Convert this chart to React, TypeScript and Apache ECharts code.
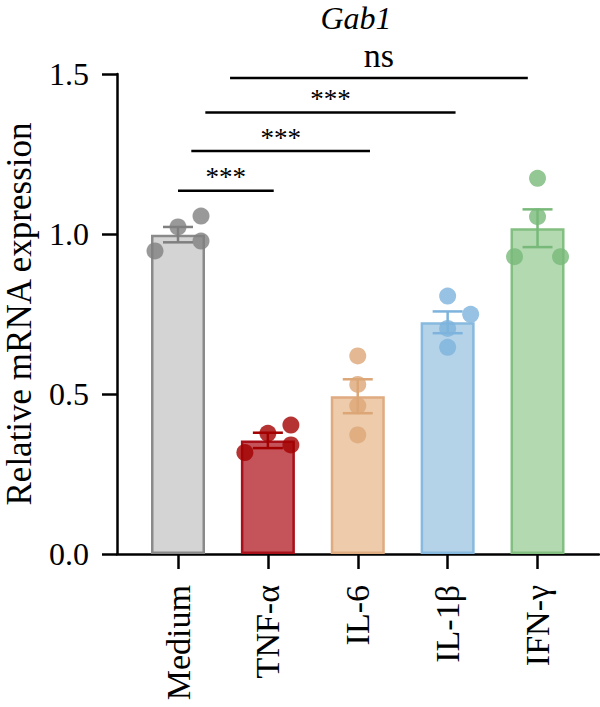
import React, { useEffect, useRef } from 'react';
import * as echarts from 'echarts';

// ---- data ----
const categories = ['Medium', 'TNF-α', 'IL-6', 'IL-1β', 'IFN-γ'];
const means = [0.998, 0.355, 0.493, 0.724, 1.018];
const sems = [0.024, 0.024, 0.053, 0.034, 0.059];
const pointValues = [
  [0.947, 1.022, 1.056, 0.978],
  [0.317, 0.377, 0.403, 0.341],
  [0.619, 0.53, 0.463, 0.372],
  [0.806, 0.749, 0.705, 0.646],
  [1.174, 1.054, 0.929, 0.929],
];
const pointJitter = [
  [-0.256, 0, 0.256, 0.256],
  [-0.256, 0, 0.256, 0.256],
  [0, 0, 0, 0],
  [0, 0.256, 0, 0],
  [0, 0, -0.256, 0.256],
];
const bracketStart = [0, 0.148, 0.304, 0.579];
const bracketEnd = [1.065, 2.136, 3.088, 3.892];
const bracketLevel = [1.135, 1.259, 1.38, 1.4875];
const bracketLabel = ['***', '***', '***', 'ns'];
const yMin = 0;
const yMax = 1.5;
const yStep = 0.5;
const title = 'Gab1';
const yName = 'Relative mRNA expression';

// ---- styles ----
const barFill = ['#d4d4d4', '#c4535a', '#edcbab', '#b4d3e8', '#b3d9b1'];
const barBorder = ['#8a8a8a', '#a8101a', '#dfab80', '#88b9de', '#82bf80'];
const pointColor = ['#7f7f7f', '#a30000', '#dca677', '#7db3dc', '#78b979'];
const FONT = 'Liberation Serif';

export default function App() {
  const ref = useRef<HTMLDivElement>(null);
  useEffect(() => {
    if (!ref.current) return;
    const chart = echarts.init(ref.current, undefined, { renderer: 'svg' });
    const catIdx = categories.map((_, i) => i);

    const barData = means.map((m, i) => ({
      value: [i, m],
      itemStyle: { color: barFill[i], borderColor: barBorder[i], borderWidth: 2.5 },
    }));
    const errData = means.map((m, i) => [i, m, sems[i]]);
    const pointData: any[] = [];
    pointValues.forEach((vals, i) =>
      vals.forEach((v, j) =>
        pointData.push({ value: [i + pointJitter[i][j], v], itemStyle: { color: pointColor[i] } })
      )
    );
    const bracketData = bracketStart.map((s, i) => [s, bracketEnd[i], bracketLevel[i], i]);

    chart.setOption({
      animation: false,
      textStyle: { fontFamily: FONT },
      grid: {
        left: 117,
        right: 1,
        top: 74,
        bottom: 153,
        containLabel: false,
        outerBoundsMode: 'none',
      },
      graphic: [
        {
          type: 'text',
          x: 356,
          y: 18,
          style: {
            text: title,
            align: 'center',
            verticalAlign: 'middle',
            fontFamily: FONT,
            fontStyle: 'italic',
            fontSize: 32,
            fill: '#000',
          },
        },
      ],
      xAxis: {
        type: 'value',
        min: -0.6787,
        max: 4.684,
        splitLine: { show: false },
        axisLine: { show: true, onZero: false, lineStyle: { color: '#000', width: 2.5 } },
        axisTick: {
          show: true,
          customValues: catIdx,
          length: 15,
          lineStyle: { color: '#000', width: 2.5 },
        },
        axisLabel: {
          customValues: catIdx,
          rotate: 90,
          margin: 31,
          fontSize: 34,
          fontFamily: FONT,
          color: '#000',
          formatter: (v: number) => categories[Math.round(v)] ?? '',
        },
      },
      yAxis: {
        type: 'value',
        min: yMin,
        max: yMax,
        interval: yStep,
        name: yName,
        nameLocation: 'middle',
        nameGap: 80,
        nameTextStyle: { fontSize: 35, fontFamily: FONT, color: '#000' },
        splitLine: { show: false },
        axisLine: { show: true, onZero: false, lineStyle: { color: '#000', width: 2.5 } },
        axisTick: { show: true, length: 15, lineStyle: { color: '#000', width: 2.5 } },
        axisLabel: {
          margin: 28,
          fontSize: 32,
          fontFamily: FONT,
          color: '#000',
          formatter: (v: number) => v.toFixed(1),
        },
      },
      series: [
        {
          type: 'bar',
          data: barData,
          barWidth: 54,
          z: 1,
        },
        {
          type: 'custom',
          data: errData,
          encode: { x: 0, y: 1 },
          z: 2,
          renderItem: (params: any, api: any) => {
            const i = api.value(0);
            const m = api.value(1);
            const s = api.value(2);
            const top = api.coord([i, m + s]);
            const bot = api.coord([i, m - s]);
            const c = pointColor[Math.round(i)];
            const hw = 15;
            const st = { stroke: c, lineWidth: 2.5 };
            return {
              type: 'group',
              children: [
                { type: 'line', shape: { x1: top[0], y1: top[1], x2: bot[0], y2: bot[1] }, style: st },
                { type: 'line', shape: { x1: top[0] - hw, y1: top[1], x2: top[0] + hw, y2: top[1] }, style: st },
                { type: 'line', shape: { x1: bot[0] - hw, y1: bot[1], x2: bot[0] + hw, y2: bot[1] }, style: st },
              ],
            };
          },
        },
        {
          type: 'scatter',
          data: pointData,
          symbol: 'circle',
          symbolSize: 17,
          z: 3,
        },
        {
          type: 'custom',
          data: bracketData,
          encode: { x: [0, 1], y: 2 },
          z: 4,
          clip: false,
          renderItem: (params: any, api: any) => {
            const a = api.coord([api.value(0), api.value(2)]);
            const b = api.coord([api.value(1), api.value(2)]);
            const lbl = bracketLabel[Math.round(api.value(3))];
            const isNs = lbl === 'ns';
            return {
              type: 'group',
              children: [
                {
                  type: 'line',
                  shape: { x1: a[0], y1: a[1], x2: b[0], y2: b[1] },
                  style: { stroke: '#000', lineWidth: 2.5 },
                },
                {
                  type: 'text',
                  style: {
                    text: lbl,
                    x: (a[0] + b[0]) / 2,
                    y: a[1] - (isNs ? 23 : 13.5),
                    align: 'center',
                    verticalAlign: 'middle',
                    fontFamily: FONT,
                    fontSize: isNs ? 34 : 27,
                    fill: '#000',
                  },
                },
              ],
            };
          },
        },
      ],
    });
    return () => chart.dispose();
  }, []);
  return <div ref={ref} style={{ width: 600, height: 707, position: 'absolute', left: 0, top: 0 }} />;
}
